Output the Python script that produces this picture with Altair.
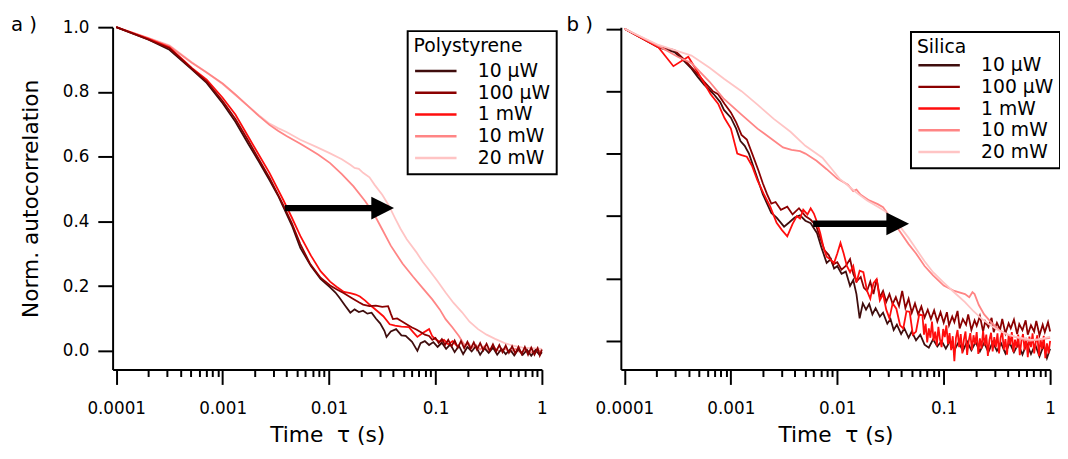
import altair as alt
import pandas as pd

POWERS = ["10 µW", "100 µW", "1 mW", "10 mW", "20 mW"]
COLORS = ["#3f0d0d", "#8b0000", "#ff0d0d", "#ff8585", "#ffc4c4"]
PANEL_LABELS = ["a )", "b )"]
LEGEND_TITLES = ["Polystyrene", "Silica"]

# (log10 of lag time tau in s, normalized autocorrelation)
PS_10UW = [(-4.00, 1.000), (-3.70, 0.962), (-3.50, 0.930), (-3.29, 0.870), (-3.15, 0.828), (-3.00, 0.765),
           (-2.88, 0.708), (-2.76, 0.640), (-2.66, 0.585), (-2.56, 0.528), (-2.48, 0.480), (-2.43, 0.445),
           (-2.35, 0.388), (-2.27, 0.318), (-2.17, 0.262), (-2.08, 0.222), (-1.99, 0.196), (-1.94, 0.180),
           (-1.90, 0.163), (-1.85, 0.140), (-1.80, 0.118), (-1.76, 0.128), (-1.72, 0.120), (-1.68, 0.124),
           (-1.64, 0.115), (-1.60, 0.118), (-1.56, 0.100), (-1.52, 0.085), (-1.48, 0.062), (-1.46, 0.043),
           (-1.42, 0.060), (-1.37, 0.067), (-1.32, 0.048), (-1.28, 0.046), (-1.22, 0.028), (-1.17, 0.000),
           (-1.14, 0.024), (-1.10, 0.030), (-1.06, 0.018), (-1.02, 0.027), (-0.98, 0.012), (-0.94, 0.025),
           (-0.90, 0.006), (-0.86, 0.020), (-0.82, -0.004), (-0.78, 0.016), (-0.74, -0.010), (-0.70, 0.012),
           (-0.66, -0.002), (-0.62, 0.014), (-0.58, -0.012), (-0.54, 0.008), (-0.50, -0.006), (-0.46, 0.010),
           (-0.42, -0.012), (-0.38, 0.006), (-0.34, -0.010), (-0.30, 0.004), (-0.26, -0.014), (-0.22, 0.006),
           (-0.18, -0.012), (-0.14, 0.003), (-0.10, -0.015), (-0.06, 0.002), (-0.02, -0.013), (0.00, -0.004)]
PS_100UW = [(-4.00, 1.000), (-3.70, 0.962), (-3.50, 0.935), (-3.29, 0.872), (-3.15, 0.832), (-3.00, 0.772),
            (-2.88, 0.716), (-2.76, 0.650), (-2.66, 0.592), (-2.56, 0.535), (-2.43, 0.450), (-2.35, 0.395),
            (-2.27, 0.330), (-2.18, 0.270), (-2.08, 0.226), (-1.99, 0.202), (-1.93, 0.190), (-1.86, 0.178),
            (-1.78, 0.162), (-1.72, 0.150), (-1.68, 0.143), (-1.62, 0.138), (-1.56, 0.140), (-1.50, 0.136),
            (-1.445, 0.138), (-1.42, 0.115), (-1.40, 0.098), (-1.36, 0.100), (-1.31, 0.090), (-1.26, 0.080),
            (-1.22, 0.072), (-1.18, 0.066), (-1.14, 0.058), (-1.10, 0.050), (-1.06, 0.046), (-1.03, 0.034),
            (-1.00, 0.040), (-0.97, 0.024), (-0.94, 0.036), (-0.91, 0.018), (-0.88, 0.034), (-0.85, 0.014),
            (-0.82, 0.032), (-0.79, 0.010), (-0.76, 0.030), (-0.73, 0.008), (-0.70, 0.028), (-0.67, 0.006),
            (-0.64, 0.026), (-0.61, 0.004), (-0.58, 0.024), (-0.55, 0.002), (-0.52, 0.022), (-0.49, 0.000),
            (-0.46, 0.020), (-0.43, -0.002), (-0.40, 0.018), (-0.37, -0.004), (-0.34, 0.016), (-0.31, -0.006),
            (-0.28, 0.014), (-0.25, -0.008), (-0.22, 0.012), (-0.19, -0.010), (-0.16, 0.012), (-0.13, -0.012),
            (-0.10, 0.010), (-0.07, -0.012), (-0.04, 0.008), (-0.02, -0.014), (0.00, 0.004)]
PS_1MW = [(-4.00, 1.000), (-3.70, 0.965), (-3.50, 0.938), (-3.29, 0.874), (-3.15, 0.838), (-3.00, 0.782),
          (-2.88, 0.730), (-2.76, 0.662), (-2.66, 0.606), (-2.56, 0.550), (-2.43, 0.466), (-2.35, 0.412),
          (-2.27, 0.355), (-2.17, 0.294), (-2.08, 0.246), (-1.99, 0.214), (-1.93, 0.198), (-1.86, 0.182),
          (-1.80, 0.178), (-1.75, 0.174), (-1.71, 0.168), (-1.66, 0.155), (-1.62, 0.143), (-1.55, 0.124),
          (-1.49, 0.107), (-1.43, 0.082), (-1.38, 0.078), (-1.32, 0.075), (-1.25, 0.073), (-1.21, 0.058),
          (-1.17, 0.043), (-1.12, 0.055), (-1.06, 0.067), (-1.03, 0.045), (-1.00, 0.036), (-0.96, 0.028),
          (-0.92, 0.034), (-0.88, 0.020), (-0.84, 0.030), (-0.80, 0.016)]
PS_10MW = [(-4.00, 1.000), (-3.70, 0.966), (-3.50, 0.942), (-3.29, 0.890), (-3.15, 0.860), (-3.00, 0.826),
           (-2.88, 0.792), (-2.76, 0.756), (-2.66, 0.726), (-2.56, 0.698), (-2.48, 0.680), (-2.40, 0.664),
           (-2.27, 0.640), (-2.18, 0.622), (-2.10, 0.606), (-1.99, 0.580), (-1.88, 0.546), (-1.77, 0.508),
           (-1.66, 0.462), (-1.57, 0.418), (-1.50, 0.375), (-1.42, 0.325), (-1.31, 0.270), (-1.21, 0.229),
           (-1.11, 0.190), (-1.03, 0.159), (-0.96, 0.128), (-0.905, 0.098), (-0.84, 0.072), (-0.78, 0.046),
           (-0.75, 0.030), (-0.72, 0.015), (-0.69, 0.024), (-0.66, 0.008), (-0.62, 0.018), (-0.58, 0.004),
           (-0.54, 0.014), (-0.50, 0.000), (-0.45, 0.010), (-0.40, -0.002), (-0.35, 0.008), (-0.30, -0.004),
           (-0.25, 0.006), (-0.20, -0.006), (-0.15, 0.004), (-0.10, -0.006), (-0.05, 0.004), (0.00, -0.004)]
PS_20MW = [(-4.00, 1.000), (-3.70, 0.967), (-3.50, 0.944), (-3.29, 0.892), (-3.15, 0.860), (-3.00, 0.824),
           (-2.88, 0.790), (-2.76, 0.756), (-2.66, 0.728), (-2.56, 0.702), (-2.48, 0.688), (-2.40, 0.676),
           (-2.27, 0.652), (-2.12, 0.630), (-1.99, 0.610), (-1.88, 0.592), (-1.80, 0.575), (-1.76, 0.565),
           (-1.72, 0.562), (-1.68, 0.550), (-1.62, 0.536), (-1.57, 0.512), (-1.50, 0.482), (-1.44, 0.450),
           (-1.38, 0.410), (-1.33, 0.378), (-1.27, 0.345), (-1.18, 0.305), (-1.12, 0.275), (-1.06, 0.250),
           (-0.98, 0.215), (-0.905, 0.180), (-0.83, 0.148), (-0.75, 0.119), (-0.68, 0.090), (-0.60, 0.067),
           (-0.52, 0.050), (-0.44, 0.037), (-0.35, 0.024), (-0.26, 0.015), (-0.18, 0.010), (-0.09, 0.008),
           (0.00, 0.006)]

# panel b
SI_10UW = [(-4.00, 1.000), (-3.68, 0.940), (-3.53, 0.925), (-3.45, 0.900), (-3.37, 0.872), (-3.31, 0.845),
           (-3.25, 0.820), (-3.16, 0.790), (-3.10, 0.765), (-3.065, 0.740), (-3.00, 0.715), (-2.95, 0.680),
           (-2.91, 0.640), (-2.87, 0.625), (-2.83, 0.600), (-2.75, 0.520), (-2.70, 0.470), (-2.66, 0.440),
           (-2.62, 0.410), (-2.57, 0.395), (-2.50, 0.366), (-2.45, 0.380), (-2.40, 0.395), (-2.35, 0.402),
           (-2.30, 0.385), (-2.25, 0.377), (-2.19, 0.345), (-2.15, 0.300), (-2.10, 0.250), (-2.06, 0.262),
           (-2.03, 0.232), (-2.00, 0.240), (-1.96, 0.215), (-1.92, 0.222), (-1.88, 0.176), (-1.85, 0.195),
           (-1.82, 0.150), (-1.79, 0.072), (-1.76, 0.120), (-1.73, 0.100), (-1.70, 0.118), (-1.67, 0.085),
           (-1.64, 0.105), (-1.60, 0.078), (-1.57, 0.090), (-1.53, 0.055), (-1.50, 0.070), (-1.47, 0.035),
           (-1.44, 0.052), (-1.40, 0.022), (-1.37, 0.040), (-1.33, 0.010), (-1.30, 0.030), (-1.26, 0.002),
           (-1.22, 0.020), (-1.18, -0.012), (-1.14, -0.022), (-1.10, 0.005), (-1.06, -0.018), (-1.02, 0.000),
           (-0.98, -0.025), (-0.94, 0.000), (-0.90, -0.030), (-0.86, -0.004), (-0.82, -0.032), (-0.78, -0.002),
           (-0.74, -0.030), (-0.70, -0.004), (-0.66, -0.034), (-0.62, -0.006), (-0.58, -0.036), (-0.54, -0.004),
           (-0.50, -0.032), (-0.46, -0.008), (-0.42, -0.040), (-0.38, -0.006), (-0.34, -0.036), (-0.30, -0.010),
           (-0.26, -0.044), (-0.22, -0.008), (-0.18, -0.042), (-0.14, -0.012), (-0.10, -0.050), (-0.06, -0.014),
           (-0.03, -0.055), (0.00, -0.025)]
SI_100UW = [(-4.00, 1.000), (-3.68, 0.942), (-3.53, 0.932), (-3.45, 0.905), (-3.37, 0.876), (-3.30, 0.850),
            (-3.25, 0.830), (-3.17, 0.800), (-3.12, 0.790), (-3.06, 0.760), (-3.00, 0.732), (-2.95, 0.700),
            (-2.90, 0.660), (-2.85, 0.645), (-2.80, 0.600), (-2.74, 0.545), (-2.70, 0.505), (-2.66, 0.470),
            (-2.62, 0.440), (-2.58, 0.445), (-2.53, 0.420), (-2.47, 0.430), (-2.42, 0.405), (-2.36, 0.425),
            (-2.30, 0.400), (-2.25, 0.388), (-2.20, 0.370), (-2.16, 0.330), (-2.12, 0.290), (-2.08, 0.275),
            (-2.04, 0.245), (-2.00, 0.252), (-1.96, 0.228), (-1.92, 0.240), (-1.88, 0.262), (-1.85, 0.215),
            (-1.82, 0.190), (-1.78, 0.205), (-1.75, 0.170), (-1.72, 0.160), (-1.69, 0.190), (-1.66, 0.150),
            (-1.63, 0.198), (-1.60, 0.140), (-1.57, 0.160), (-1.54, 0.125), (-1.51, 0.150), (-1.48, 0.118),
            (-1.45, 0.140), (-1.42, 0.112), (-1.39, 0.160), (-1.36, 0.105), (-1.33, 0.135), (-1.30, 0.090),
            (-1.27, 0.120), (-1.24, 0.085), (-1.21, 0.110), (-1.18, 0.075), (-1.15, 0.100), (-1.12, 0.070),
            (-1.09, 0.098), (-1.06, 0.062), (-1.03, 0.092), (-1.00, 0.058), (-0.97, 0.092), (-0.95, 0.050),
            (-0.92, 0.078), (-0.90, 0.060), (-0.87, 0.096), (-0.85, 0.040), (-0.82, 0.070), (-0.79, 0.052),
            (-0.77, 0.085), (-0.74, 0.035), (-0.71, 0.066), (-0.69, 0.048), (-0.66, 0.080), (-0.63, 0.030),
            (-0.61, 0.062), (-0.58, 0.044), (-0.55, 0.074), (-0.53, 0.028), (-0.50, 0.058), (-0.47, 0.036),
            (-0.45, 0.070), (-0.42, 0.024), (-0.39, 0.056), (-0.37, 0.040), (-0.34, 0.068), (-0.31, 0.022),
            (-0.29, 0.054), (-0.26, 0.034), (-0.23, 0.066), (-0.21, 0.020), (-0.18, 0.050), (-0.15, 0.030),
            (-0.13, 0.064), (-0.10, 0.018), (-0.07, 0.052), (-0.05, 0.028), (-0.02, 0.060), (0.00, 0.030)]
SI_1MW = [(-4.00, 1.000), (-3.68, 0.940), (-3.54, 0.880), (-3.40, 0.910), (-3.31, 0.860), (-3.19, 0.790),
          (-3.12, 0.760), (-3.06, 0.714), (-3.00, 0.680), (-2.94, 0.600), (-2.90, 0.595), (-2.85, 0.590),
          (-2.80, 0.560), (-2.75, 0.514), (-2.69, 0.470), (-2.63, 0.430), (-2.57, 0.378), (-2.52, 0.355),
          (-2.47, 0.335), (-2.42, 0.375), (-2.38, 0.400), (-2.35, 0.392), (-2.32, 0.420), (-2.28, 0.405),
          (-2.25, 0.425), (-2.22, 0.408), (-2.19, 0.380), (-2.16, 0.345), (-2.13, 0.300), (-2.10, 0.270),
          (-2.07, 0.262), (-2.03, 0.250), (-2.00, 0.280), (-1.97, 0.314), (-1.94, 0.280), (-1.91, 0.240),
          (-1.88, 0.220), (-1.85, 0.240), (-1.82, 0.187), (-1.79, 0.225), (-1.755, 0.220), (-1.72, 0.160),
          (-1.69, 0.135), (-1.66, 0.185), (-1.63, 0.198), (-1.60, 0.130), (-1.57, 0.150), (-1.54, 0.100),
          (-1.51, 0.072), (-1.48, 0.120), (-1.445, 0.103), (-1.41, 0.050), (-1.38, 0.040), (-1.35, 0.095),
          (-1.32, 0.093), (-1.29, 0.020), (-1.26, 0.030), (-1.23, 0.085),
          (-1.200, 0.082), (-1.185, 0.020), (-1.170, 0.055), (-1.155, -0.005), (-1.140, 0.040), (-1.125, 0.010),
          (-1.110, 0.062), (-1.095, 0.000), (-1.080, 0.030), (-1.065, -0.015), (-1.050, 0.045), (-1.035, 0.005),
          (-1.020, -0.020), (-1.005, 0.038), (-0.990, 0.012), (-0.975, 0.050), (-0.960, -0.010), (-0.945, 0.025),
          (-0.930, -0.030), (-0.915, 0.015), (-0.900, -0.065), (-0.885, 0.010), (-0.870, 0.035), (-0.855, -0.020),
          (-0.840, 0.022), (-0.825, -0.040), (-0.810, 0.005), (-0.795, 0.030), (-0.780, -0.045), (-0.765, 0.000),
          (-0.750, 0.025), (-0.735, -0.030), (-0.720, 0.018), (-0.705, -0.010), (-0.690, 0.028), (-0.675, -0.042),
          (-0.660, 0.008), (-0.645, -0.025), (-0.630, 0.032), (-0.615, -0.015), (-0.600, 0.020), (-0.585, -0.048),
          (-0.570, 0.004), (-0.555, 0.026), (-0.540, -0.034), (-0.525, 0.012), (-0.510, -0.020), (-0.495, 0.024),
          (-0.480, -0.040), (-0.465, 0.010), (-0.450, 0.030), (-0.435, -0.028), (-0.420, 0.006), (-0.405, -0.044),
          (-0.390, 0.018), (-0.375, -0.012), (-0.360, 0.028), (-0.345, -0.036), (-0.330, 0.004), (-0.315, -0.022),
          (-0.300, 0.020), (-0.285, -0.046), (-0.270, 0.000), (-0.255, 0.022), (-0.240, -0.030), (-0.225, 0.010),
          (-0.210, -0.052), (-0.195, 0.014), (-0.180, -0.020), (-0.165, 0.024), (-0.150, -0.040), (-0.135, -0.004),
          (-0.120, 0.018), (-0.105, -0.048), (-0.090, 0.006), (-0.075, -0.026), (-0.060, 0.016), (-0.045, -0.055),
          (-0.030, -0.008), (-0.015, -0.040), (0.000, 0.000)]
SI_10MW = [(-4.00, 1.000), (-3.68, 0.945), (-3.50, 0.910), (-3.37, 0.890), (-3.20, 0.830), (-3.07, 0.777),
           (-2.90, 0.725), (-2.75, 0.680), (-2.63, 0.650), (-2.51, 0.620), (-2.43, 0.612), (-2.35, 0.608),
           (-2.30, 0.600), (-2.195, 0.577), (-2.10, 0.550), (-2.00, 0.520), (-1.90, 0.500), (-1.85, 0.480),
           (-1.82, 0.485), (-1.78, 0.468), (-1.70, 0.450), (-1.62, 0.438), (-1.57, 0.428), (-1.50, 0.395),
           (-1.41, 0.350), (-1.33, 0.310), (-1.26, 0.280), (-1.18, 0.240), (-1.10, 0.210), (-1.00, 0.177),
           (-0.90, 0.160), (-0.80, 0.150), (-0.76, 0.140), (-0.73, 0.156), (-0.71, 0.150), (-0.67, 0.115),
           (-0.62, 0.085), (-0.56, 0.062), (-0.48, 0.035), (-0.40, 0.020), (-0.34, 0.014), (-0.26, 0.005),
           (-0.19, 0.000), (-0.10, 0.004), (0.00, 0.010)]
SI_20MW = [(-4.00, 1.000), (-3.68, 0.948), (-3.37, 0.914), (-3.20, 0.875), (-3.065, 0.840), (-2.90, 0.800),
           (-2.75, 0.757), (-2.60, 0.712), (-2.44, 0.670), (-2.30, 0.625), (-2.14, 0.587), (-2.05, 0.550),
           (-1.98, 0.520), (-1.90, 0.498), (-1.82, 0.475), (-1.72, 0.450), (-1.62, 0.430), (-1.55, 0.415),
           (-1.48, 0.390), (-1.41, 0.366), (-1.33, 0.330), (-1.26, 0.295), (-1.18, 0.255), (-1.10, 0.220),
           (-1.00, 0.187), (-0.90, 0.155), (-0.80, 0.124), (-0.72, 0.095), (-0.64, 0.070), (-0.56, 0.050),
           (-0.49, 0.035), (-0.41, 0.022), (-0.33, 0.014), (-0.25, 0.008), (-0.18, 0.003), (-0.09, 0.006),
           (0.00, 0.014)]

# arrows: [log10 tau of tail, log10 tau of shaft end, log10 tau of head centre, level]
ARROW_PS = [-2.415, -1.59, -1.496, 0.441]
ARROW_SI = [-2.227, -1.52, -1.432, 0.375]

X_DOMAIN = [9.25e-5, 1.0]
X_MAJOR = [0.0001, 0.001, 0.01, 0.1, 1]
X_MINOR = [2e-4, 3e-4, 4e-4, 5e-4, 6e-4, 7e-4, 8e-4, 9e-4,
           2e-3, 3e-3, 4e-3, 5e-3, 6e-3, 7e-3, 8e-3, 9e-3,
           2e-2, 3e-2, 4e-2, 5e-2, 6e-2, 7e-2, 8e-2, 9e-2,
           0.2, 0.3, 0.4, 0.5, 0.6, 0.7, 0.8, 0.9]
Y_TICKS = [0.0, 0.2, 0.4, 0.6, 0.8, 1.0]
Y_DOMAIN_PS = [-0.058, 1.0]
Y_DOMAIN_SI = [-0.092, 1.005]

W, H = 435, 347


def series_df(pairs, name):
    return pd.DataFrame({"tau": [10 ** p[0] for p in pairs],
                         "g": [p[1] for p in pairs],
                         "power": name})


def panel(curves, order, ydom, show_labels, idx, lx, ly, tpad, arrow, label_x):
    xs = alt.Scale(type="log", domain=X_DOMAIN, nice=False)
    ys = alt.Scale(domain=ydom, nice=False, zero=False)
    cs = alt.Scale(domain=POWERS, range=COLORS)
    leg = alt.Legend(orient="none", legendX=lx, legendY=ly, title=LEGEND_TITLES[idx],
                     titlePadding=tpad)
    major = alt.Axis(values=X_MAJOR, format="~g", tickSize=15, labelPadding=16,
                     labelFlush=False, labelOverlap=False, orient="bottom",
                     title="Time \u00a0\u03c4 (s)", titleY=66, titleBaseline="middle")
    minor = alt.Axis(values=X_MINOR, tickSize=7, labels=False, domain=False,
                     orient="bottom", title=None)
    if show_labels:
        yaxis = alt.Axis(values=Y_TICKS, format=".1f", tickSize=15, labelPadding=9,
                         labelFlush=False, title="Norm. autocorrelation",
                         titleX=-83, titleBaseline="middle")
    else:
        yaxis = alt.Axis(values=Y_TICKS, tickSize=15, labels=False, title=None)

    layers = []
    for k, name in enumerate(order):
        df = series_df(curves[name], name)
        layers.append(
            alt.Chart(df).mark_line(strokeWidth=1.8).encode(
                x=alt.X("tau:Q", scale=xs, axis=major if k == 0 else None),
                y=alt.Y("g:Q", scale=ys, axis=yaxis),
                color=alt.Color("power:N", scale=cs, legend=leg),
            )
        )
    adf = pd.DataFrame({"t0": [10 ** arrow[0]], "t1": [10 ** arrow[1]],
                        "th": [10 ** arrow[2]], "g": [arrow[3]]})
    shaft = alt.Chart(adf).mark_rule(strokeWidth=6.5, color="black").encode(
        x=alt.X("t0:Q", scale=xs, axis=minor), x2="t1:Q",
        y=alt.Y("g:Q", scale=ys, axis=yaxis))
    head = alt.Chart(adf).mark_point(shape="M-1,-1L1,0L-1,1Z", size=529, filled=True,
                                     color="black", opacity=1, strokeWidth=0).encode(
        x=alt.X("th:Q", scale=xs, axis=None), y=alt.Y("g:Q", scale=ys, axis=yaxis))
    tdf = pd.DataFrame({"label": [PANEL_LABELS[idx]]})
    text = alt.Chart(tdf).mark_text(align="left", baseline="top", fontSize=20,
                                    color="black").encode(
        text="label:N", x=alt.value(label_x), y=alt.value(-12.5))
    return alt.layer(*layers, shaft, head, text).resolve_axis(x="independent").properties(
        width=W, height=H)


ps = {"10 µW": PS_10UW, "100 µW": PS_100UW, "1 mW": PS_1MW, "10 mW": PS_10MW, "20 mW": PS_20MW}
si = {"10 µW": SI_10UW, "100 µW": SI_100UW, "1 mW": SI_1MW, "10 mW": SI_10MW, "20 mW": SI_20MW}

left = panel(ps, ["20 mW", "10 mW", "1 mW", "10 µW", "100 µW"], Y_DOMAIN_PS, True, 0,
             299, 4, 4, ARROW_PS, -103)
right = panel(si, ["10 µW", "100 µW", "1 mW", "10 mW", "20 mW"], Y_DOMAIN_SI, False, 1,
              294, 5, -3, ARROW_SI, -55)

chart = alt.hconcat(left, right, spacing=80, bounds="flush").resolve_scale(
    color="independent", x="independent", y="independent"
).resolve_legend(color="independent").properties(
    padding={"left": 2, "top": 3.5, "right": -2, "bottom": -2}
).configure(font="DejaVu Sans").configure_view(stroke="transparent").configure_axis(
    grid=False, domainColor="black", domainWidth=2, tickColor="black", tickWidth=2,
    labelColor="black", titleColor="black", labelFontSize=17, titleFontSize=22,
    titleFontWeight="normal"
).configure_legend(
    strokeColor="black", fillColor="white", padding=6, strokeWidth=2,
    titleFontSize=19, titleFontWeight="normal", titleColor="black",
    labelFontSize=19, labelColor="black",
    symbolType="M-2.1,0H2.1", symbolSize=400, symbolStrokeWidth=2.5,
    symbolOffset=11, labelOffset=31, rowPadding=0
)

chart.save("out.html", embed_options={"renderer": "svg", "actions": False})
